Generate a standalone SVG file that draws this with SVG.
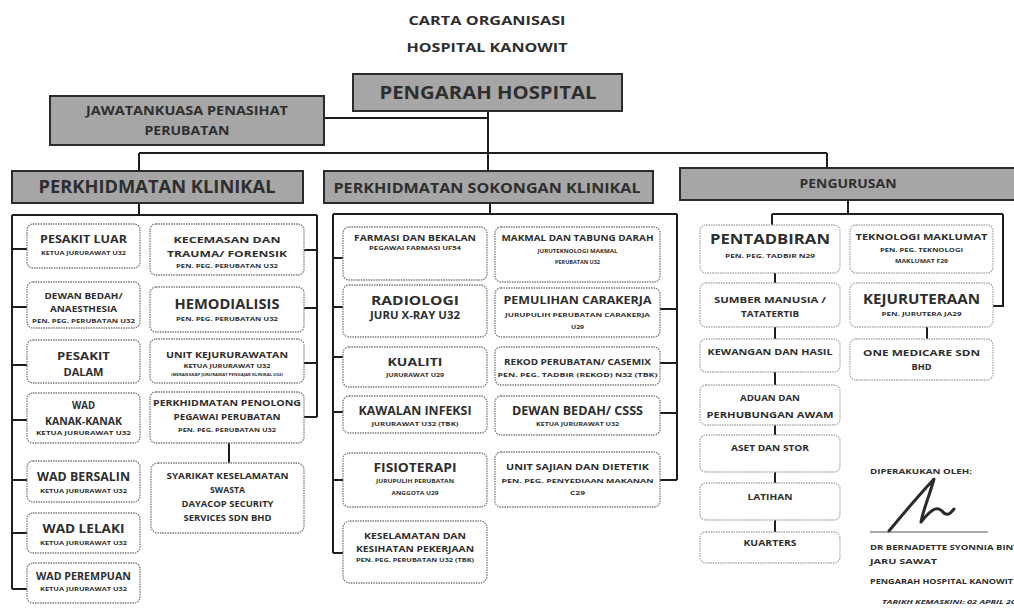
<svg xmlns="http://www.w3.org/2000/svg" width="1014" height="608" viewBox="0 0 1014 608">
<style>
.bg{fill:#ffffff}
.hdr{fill:#a6a6a6;stroke:#2b2b2b;stroke-width:2}
.box{fill:#ffffff;stroke:#7a7a7a;stroke-width:1.3;stroke-dasharray:1.5 1}
.boxl{fill:#ffffff;stroke:#a8a8a8;stroke-width:1.3;stroke-dasharray:1.5 1}
.ln{stroke:#1e1e1e;stroke-width:2;fill:none}
.t{font-family:"Open Sans",Lato,"Liberation Sans",sans-serif;font-weight:700;fill:#2e2e2e;text-anchor:middle}
.l{font-family:"Open Sans",Lato,"Liberation Sans",sans-serif;font-weight:700;fill:#2e2e2e;text-anchor:start}
.s{font-size:6px}
</style>
<rect class="bg" x="0" y="0" width="1014" height="608"/>

<g id="title">
<text class="t" x="487" y="25" font-size="13" textLength="157" lengthAdjust="spacingAndGlyphs">CARTA ORGANISASI</text>
<text class="t" x="487" y="52" font-size="13" textLength="161" lengthAdjust="spacingAndGlyphs">HOSPITAL KANOWIT</text>
</g>

<g id="connectors">
<path class="ln" d="M488,111 V171 M324,118 H488 M139,153 H827 M139,153 V171 M827,153 V168"/>
<path class="ln" d="M139,203 V215 M12,215 H317 M12,215 V589 M317,215 V417"/>
<path class="ln" d="M12,249 H27 M12,307 H27 M12,365 H27 M12,420 H27 M12,480 H27 M12,533 H27 M12,589 H27"/>
<path class="ln" d="M304,250 H317 M304,308 H317 M304,363 H317 M304,417 H317 M229,443 V463"/>
<path class="ln" d="M490,203 V214 M333,214 H677 M333,214 V553 M677,214 V480"/>
<path class="ln" d="M333,258 H343 M333,307 H343 M333,357 H343 M333,412 H343 M333,480 H343 M333,553 H343"/>
<path class="ln" d="M660,309 H677 M660,363 H677 M660,413 H677 M660,480 H677"/>
<path class="ln" d="M848,200 V214 M772,214 H1003 M772,214 V225 M1003,214 V306 H993"/>
<path class="ln" d="M775,273 V283 M775,327 V339 M775,372 V385 M775,425 V435 M775,472 V483 M775,520 V532 M927,327 V339"/>
</g>

<g id="pengarah">
<rect class="hdr" x="353" y="74" width="269" height="37"/>
<text class="t" x="488" y="99" font-size="17.5" textLength="217" lengthAdjust="spacingAndGlyphs">PENGARAH HOSPITAL</text>
</g>
<g id="jawatankuasa">
<rect class="hdr" x="50" y="96" width="274" height="49"/>
<text class="t" x="187" y="115" font-size="12" textLength="202" lengthAdjust="spacingAndGlyphs">JAWATANKUASA PENASIHAT</text>
<text class="t" x="187" y="135" font-size="12" textLength="85" lengthAdjust="spacingAndGlyphs">PERUBATAN</text>
</g>
<g id="klinikal">
<rect class="hdr" x="12" y="171" width="291" height="32"/>
<text class="t" x="157" y="193" font-size="17" textLength="237" lengthAdjust="spacingAndGlyphs">PERKHIDMATAN KLINIKAL</text>
</g>
<g id="sokongan">
<rect class="hdr" x="324" y="171" width="329" height="32"/>
<text class="t" x="487" y="193" font-size="15" textLength="307" lengthAdjust="spacingAndGlyphs">PERKHIDMATAN SOKONGAN KLINIKAL</text>
</g>
<g id="pengurusan">
<rect class="hdr" x="680" y="168" width="345" height="32"/>
<text class="t" x="848" y="188" font-size="12" textLength="97" lengthAdjust="spacingAndGlyphs">PENGURUSAN</text>
</g>

<g id="pesakit-luar">
<rect class="box" x="27" y="224" width="113" height="44" rx="6"/>
<text class="t" x="83.5" y="243" font-size="11" textLength="87" lengthAdjust="spacingAndGlyphs">PESAKIT LUAR</text>
<text class="t s" x="83.5" y="254.5" textLength="85" lengthAdjust="spacingAndGlyphs">KETUA JURURAWAT U32</text>
</g>
<g id="dewan-bedah">
<rect class="box" x="27" y="282" width="113" height="46" rx="6"/>
<text class="t" x="83.5" y="298.5" font-size="9" textLength="78" lengthAdjust="spacingAndGlyphs">DEWAN BEDAH/</text>
<text class="t" x="83.5" y="311.5" font-size="9" textLength="67" lengthAdjust="spacingAndGlyphs">ANAESTHESIA</text>
<text class="t s" x="83.5" y="323" textLength="103" lengthAdjust="spacingAndGlyphs">PEN. PEG. PERUBATAN U32</text>
</g>
<g id="pesakit-dalam">
<rect class="box" x="27" y="340" width="113" height="43" rx="6"/>
<text class="t" x="83.5" y="359.5" font-size="11" textLength="53" lengthAdjust="spacingAndGlyphs">PESAKIT</text>
<text class="t" x="83.5" y="375.5" font-size="11" textLength="40" lengthAdjust="spacingAndGlyphs">DALAM</text>
</g>
<g id="wad-kanak">
<rect class="box" x="27" y="393" width="113" height="50" rx="6"/>
<text class="t" x="83.5" y="409" font-size="10" textLength="23" lengthAdjust="spacingAndGlyphs">WAD</text>
<text class="t" x="83.5" y="425" font-size="10" textLength="77" lengthAdjust="spacingAndGlyphs">KANAK-KANAK</text>
<text class="t s" x="83.5" y="434.5" textLength="95" lengthAdjust="spacingAndGlyphs">KETUA JURURAWAT U32</text>
</g>
<g id="wad-bersalin">
<rect class="box" x="27" y="461" width="113" height="41" rx="6"/>
<text class="t" x="83.5" y="481" font-size="12.5" textLength="93" lengthAdjust="spacingAndGlyphs">WAD BERSALIN</text>
<text class="t s" x="83.5" y="492.5" textLength="87" lengthAdjust="spacingAndGlyphs">KETUA JURURAWAT U32</text>
</g>
<g id="wad-lelaki">
<rect class="box" x="27" y="513" width="113" height="40" rx="6"/>
<text class="t" x="83.5" y="533" font-size="12.5" textLength="82" lengthAdjust="spacingAndGlyphs">WAD LELAKI</text>
<text class="t s" x="83.5" y="544.5" textLength="87" lengthAdjust="spacingAndGlyphs">KETUA JURURAWAT U32</text>
</g>
<g id="wad-perempuan">
<rect class="box" x="27" y="563" width="113" height="40" rx="6"/>
<text class="t" x="83.5" y="580" font-size="10.5" textLength="95" lengthAdjust="spacingAndGlyphs">WAD PEREMPUAN</text>
<text class="t s" x="83.5" y="590.5" textLength="87" lengthAdjust="spacingAndGlyphs">KETUA JURURAWAT U32</text>
</g>

<g id="kecemasan">
<rect class="box" x="150" y="224" width="154" height="51" rx="6"/>
<text class="t" x="227" y="242.5" font-size="9.5" textLength="107" lengthAdjust="spacingAndGlyphs">KECEMASAN DAN</text>
<text class="t" x="227" y="256.5" font-size="9.5" textLength="120" lengthAdjust="spacingAndGlyphs">TRAUMA/ FORENSIK</text>
<text class="t s" x="227" y="267.5" textLength="102" lengthAdjust="spacingAndGlyphs">PEN. PEG. PERUBATAN U32</text>
</g>
<g id="hemodialisis">
<rect class="box" x="150" y="287" width="154" height="45" rx="6"/>
<text class="t" x="227" y="308.5" font-size="14.5" textLength="105" lengthAdjust="spacingAndGlyphs">HEMODIALISIS</text>
<text class="t s" x="227" y="320.5" textLength="102" lengthAdjust="spacingAndGlyphs">PEN. PEG. PERUBATAN U32</text>
</g>
<g id="unit-kejururawatan">
<rect class="box" x="150" y="339" width="154" height="44" rx="6"/>
<text class="t" x="227" y="357.5" font-size="9.5" textLength="122" lengthAdjust="spacingAndGlyphs">UNIT KEJURURAWATAN</text>
<text class="t s" x="227" y="367.5" textLength="87" lengthAdjust="spacingAndGlyphs">KETUA JURURAWAT U32</text>
<text class="t" x="227" y="375.5" font-size="3.5" textLength="112" lengthAdjust="spacingAndGlyphs">(MERANGKAP JURURAWAT PENGAJAR KLINIKAL U32)</text>
</g>
<g id="penolong">
<rect class="box" x="150" y="392" width="154" height="51" rx="6"/>
<text class="t" x="227" y="405.5" font-size="9" textLength="148" lengthAdjust="spacingAndGlyphs">PERKHIDMATAN PENOLONG</text>
<text class="t" x="227" y="420" font-size="9" textLength="107" lengthAdjust="spacingAndGlyphs">PEGAWAI PERUBATAN</text>
<text class="t s" x="227" y="431.5" textLength="98" lengthAdjust="spacingAndGlyphs">PEN. PEG. PERUBATAN U32</text>
</g>
<g id="syarikat">
<rect class="box" x="151" y="463" width="153" height="70" rx="7"/>
<text class="t" x="227.5" y="479" font-size="8.5" textLength="122" lengthAdjust="spacingAndGlyphs">SYARIKAT KESELAMATAN</text>
<text class="t" x="227.5" y="493" font-size="8.5" textLength="35" lengthAdjust="spacingAndGlyphs">SWASTA</text>
<text class="t" x="227.5" y="506.5" font-size="8.5" textLength="92" lengthAdjust="spacingAndGlyphs">DAYACOP SECURITY</text>
<text class="t" x="227.5" y="520.5" font-size="8.5" textLength="88" lengthAdjust="spacingAndGlyphs">SERVICES SDN BHD</text>
</g>

<g id="farmasi">
<rect class="box" x="343" y="227" width="144" height="53" rx="6"/>
<text class="t" x="415" y="241" font-size="8.5" textLength="122" lengthAdjust="spacingAndGlyphs">FARMASI DAN BEKALAN</text>
<text class="t s" x="415" y="249.5" textLength="92" lengthAdjust="spacingAndGlyphs">PEGAWAI FARMASI UF54</text>
</g>
<g id="radiologi">
<rect class="box" x="343" y="285" width="144" height="52" rx="6"/>
<text class="t" x="415" y="304.5" font-size="13" textLength="88" lengthAdjust="spacingAndGlyphs">RADIOLOGI</text>
<text class="t" x="415" y="318.5" font-size="10" textLength="90" lengthAdjust="spacingAndGlyphs">JURU X-RAY U32</text>
</g>
<g id="kualiti">
<rect class="box" x="343" y="347" width="144" height="40" rx="6"/>
<text class="t" x="415" y="366" font-size="10.5" textLength="55" lengthAdjust="spacingAndGlyphs">KUALITI</text>
<text class="t s" x="415" y="376.5" textLength="58" lengthAdjust="spacingAndGlyphs">JURURAWAT U29</text>
</g>
<g id="kawalan-infeksi">
<rect class="box" x="343" y="396" width="144" height="37" rx="6"/>
<text class="t" x="415" y="414.5" font-size="12" textLength="113" lengthAdjust="spacingAndGlyphs">KAWALAN INFEKSI</text>
<text class="t s" x="415" y="425.5" textLength="87" lengthAdjust="spacingAndGlyphs">JURURAWAT U32 (TBK)</text>
</g>
<g id="fisioterapi">
<rect class="box" x="343" y="453" width="144" height="54" rx="6"/>
<text class="t" x="415" y="472" font-size="11.5" textLength="83" lengthAdjust="spacingAndGlyphs">FISIOTERAPI</text>
<text class="t s" x="415" y="482.5" textLength="78" lengthAdjust="spacingAndGlyphs">JURUPULIH PERUBATAN</text>
<text class="t s" x="415" y="495" textLength="47" lengthAdjust="spacingAndGlyphs">ANGGOTA U29</text>
</g>
<g id="keselamatan">
<rect class="box" x="343" y="521" width="144" height="62" rx="7"/>
<text class="t" x="415" y="538.5" font-size="9.5" textLength="102" lengthAdjust="spacingAndGlyphs">KESELAMATAN DAN</text>
<text class="t" x="415" y="551.5" font-size="9.5" textLength="118" lengthAdjust="spacingAndGlyphs">KESIHATAN PEKERJAAN</text>
<text class="t s" x="415" y="561.5" textLength="118" lengthAdjust="spacingAndGlyphs">PEN. PEG. PERUBATAN U32 (TBK)</text>
</g>

<g id="makmal">
<rect class="box" x="495" y="227" width="165" height="55" rx="6"/>
<text class="t" x="577.5" y="241" font-size="8.5" textLength="152" lengthAdjust="spacingAndGlyphs">MAKMAL DAN TABUNG DARAH</text>
<text class="t s" x="577.5" y="252.5" textLength="80" lengthAdjust="spacingAndGlyphs">JURUTEKNOLOGI MAKMAL</text>
<text class="t s" x="577.5" y="263.5" textLength="45" lengthAdjust="spacingAndGlyphs">PERUBATAN U32</text>
</g>
<g id="pemulihan">
<rect class="box" x="495" y="288" width="165" height="49" rx="6"/>
<text class="t" x="577.5" y="304" font-size="10.5" textLength="148" lengthAdjust="spacingAndGlyphs">PEMULIHAN CARAKERJA</text>
<text class="t s" x="577.5" y="316.5" textLength="145" lengthAdjust="spacingAndGlyphs">JURUPULIH PERUBATAN CARAKERJA</text>
<text class="t s" x="577.5" y="328.5" textLength="13" lengthAdjust="spacingAndGlyphs">U29</text>
</g>
<g id="rekod">
<rect class="box" x="495" y="347" width="165" height="38" rx="6"/>
<text class="t" x="577.5" y="365" font-size="8.5" textLength="147" lengthAdjust="spacingAndGlyphs">REKOD PERUBATAN/ CASEMIX</text>
<text class="t s" x="577.5" y="376.5" textLength="160" lengthAdjust="spacingAndGlyphs">PEN. PEG. TADBIR (REKOD) N32 (TBK)</text>
</g>
<g id="dewan-bedah-csss">
<rect class="box" x="495" y="396" width="165" height="39" rx="6"/>
<text class="t" x="577.5" y="414.5" font-size="12.5" textLength="131" lengthAdjust="spacingAndGlyphs">DEWAN BEDAH/ CSSS</text>
<text class="t s" x="577.5" y="425.5" textLength="83" lengthAdjust="spacingAndGlyphs">KETUA JURURAWAT U32</text>
</g>
<g id="sajian">
<rect class="box" x="495" y="452" width="165" height="55" rx="6"/>
<text class="t" x="577.5" y="470" font-size="8.5" textLength="143" lengthAdjust="spacingAndGlyphs">UNIT SAJIAN DAN DIETETIK</text>
<text class="t s" x="577.5" y="482.5" textLength="152" lengthAdjust="spacingAndGlyphs">PEN. PEG. PENYEDIAAN MAKANAN</text>
<text class="t s" x="577.5" y="495" textLength="15" lengthAdjust="spacingAndGlyphs">C29</text>
</g>

<g id="pentadbiran">
<rect class="boxl" x="700" y="225" width="140" height="48" rx="6"/>
<text class="t" x="770" y="244" font-size="13.5" textLength="120" lengthAdjust="spacingAndGlyphs">PENTADBIRAN</text>
<text class="t s" x="770" y="257.5" textLength="90" lengthAdjust="spacingAndGlyphs">PEN. PEG. TADBIR N29</text>
</g>
<g id="sumber-manusia">
<rect class="boxl" x="700" y="283" width="140" height="44" rx="6"/>
<text class="t" x="770" y="303" font-size="8.5" textLength="112" lengthAdjust="spacingAndGlyphs">SUMBER MANUSIA /</text>
<text class="t" x="770" y="316.5" font-size="8.5" textLength="58" lengthAdjust="spacingAndGlyphs">TATATERTIB</text>
</g>
<g id="kewangan">
<rect class="boxl" x="700" y="339" width="140" height="33" rx="6"/>
<text class="t" x="770" y="355" font-size="8.5" textLength="125" lengthAdjust="spacingAndGlyphs">KEWANGAN DAN HASIL</text>
</g>
<g id="aduan">
<rect class="boxl" x="700" y="385" width="140" height="40" rx="6"/>
<text class="t" x="770" y="401" font-size="8.5" textLength="60" lengthAdjust="spacingAndGlyphs">ADUAN DAN</text>
<text class="t" x="770" y="418" font-size="8.5" textLength="127" lengthAdjust="spacingAndGlyphs">PERHUBUNGAN AWAM</text>
</g>
<g id="aset">
<rect class="boxl" x="700" y="435" width="140" height="37" rx="6"/>
<text class="t" x="770" y="451" font-size="8.5" textLength="78" lengthAdjust="spacingAndGlyphs">ASET DAN STOR</text>
</g>
<g id="latihan">
<rect class="boxl" x="700" y="483" width="140" height="37" rx="6"/>
<text class="t" x="770" y="500" font-size="8.5" textLength="45" lengthAdjust="spacingAndGlyphs">LATIHAN</text>
</g>
<g id="kuarters">
<rect class="boxl" x="700" y="532" width="140" height="31" rx="6"/>
<text class="t" x="770" y="546" font-size="8.5" textLength="53" lengthAdjust="spacingAndGlyphs">KUARTERS</text>
</g>

<g id="teknologi">
<rect class="boxl" x="850" y="225" width="143" height="48" rx="6"/>
<text class="t" x="921.5" y="240" font-size="8" textLength="132" lengthAdjust="spacingAndGlyphs">TEKNOLOGI MAKLUMAT</text>
<text class="t s" x="921.5" y="251.5" textLength="83" lengthAdjust="spacingAndGlyphs">PEN. PEG. TEKNOLOGI</text>
<text class="t s" x="921.5" y="262.5" textLength="53" lengthAdjust="spacingAndGlyphs">MAKLUMAT F29</text>
</g>
<g id="kejuruteraan">
<rect class="boxl" x="850" y="283" width="143" height="44" rx="6"/>
<text class="t" x="921.5" y="304" font-size="13.5" textLength="117" lengthAdjust="spacingAndGlyphs">KEJURUTERAAN</text>
<text class="t s" x="921.5" y="315.5" textLength="80" lengthAdjust="spacingAndGlyphs">PEN. JURUTERA JA29</text>
</g>
<g id="one-medicare">
<rect class="boxl" x="850" y="339" width="143" height="41" rx="6"/>
<text class="t" x="921.5" y="355.5" font-size="9.5" textLength="117" lengthAdjust="spacingAndGlyphs">ONE MEDICARE SDN</text>
<text class="t" x="921.5" y="370" font-size="9.5" textLength="20" lengthAdjust="spacingAndGlyphs">BHD</text>
</g>

<g id="signature">
<text class="l" x="870" y="474" font-size="7" textLength="102" lengthAdjust="spacingAndGlyphs">DIPERAKUKAN OLEH:</text>
<path d="M889,531 C903,514 922,492 934,479 C930,494 923,510 921,522 C929,512 936,505 942,511 C947,517 950,514 954,509" fill="none" stroke="#2a2a2a" stroke-width="3" stroke-linecap="round" stroke-linejoin="round"/>
<line x1="870" y1="532" x2="988" y2="532" stroke="#555" stroke-width="1"/>
<text class="l" x="870" y="550" font-size="7.5" textLength="152" lengthAdjust="spacingAndGlyphs">DR BERNADETTE SYONNIA BINTI</text>
<text class="l" x="870" y="564" font-size="7.5" textLength="67" lengthAdjust="spacingAndGlyphs">JARU SAWAT</text>
<text class="l" x="870" y="584" font-size="7.5" textLength="143" lengthAdjust="spacingAndGlyphs">PENGARAH HOSPITAL KANOWIT</text>
<text class="l" x="882" y="604" font-size="5.5" font-style="italic" textLength="134" lengthAdjust="spacingAndGlyphs">TARIKH KEMASKINI: 02 APRIL 20</text>
</g>
</svg>
